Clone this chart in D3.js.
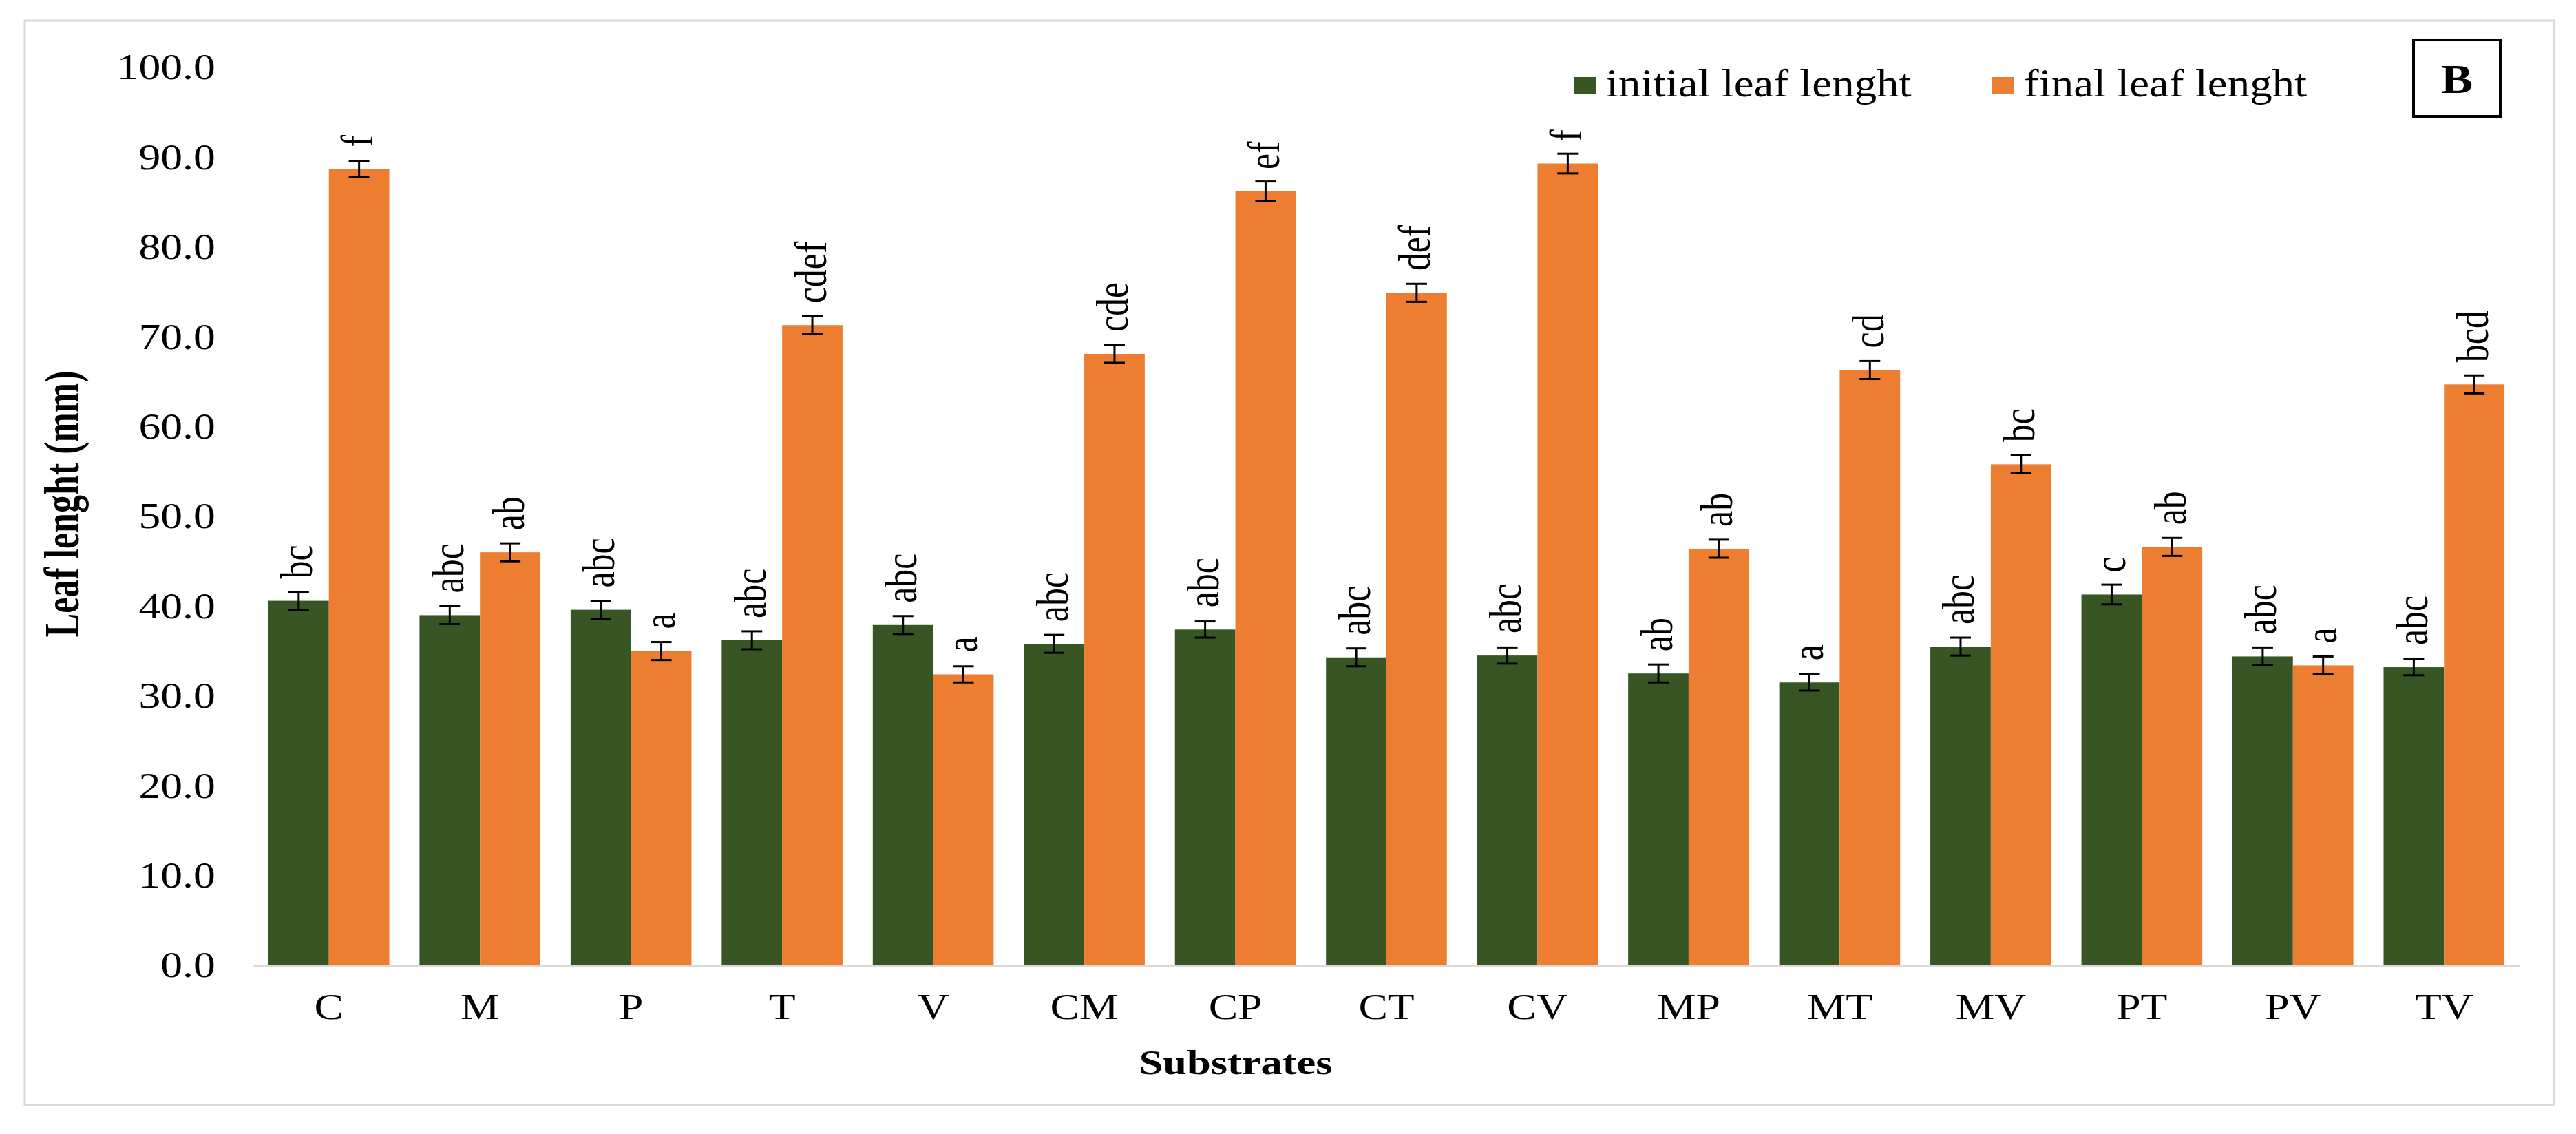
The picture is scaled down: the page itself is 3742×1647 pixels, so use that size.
<!DOCTYPE html>
<html>
<head>
<meta charset="utf-8">
<script src="https://cdn.jsdelivr.net/npm/d3@7"></script>
<style>
  body { margin: 0; background: #fff; }
  svg { display: block; }
</style>
</head>
<body>
<script>
// data
const substrates = ["C", "M", "P", "T", "V", "CM", "CP", "CT", "CV", "MP", "MT", "MV", "PT", "PV", "TV"]
const seriesNames = ["initial leaf lenght", "final leaf lenght"]
const initialLength = [40.6, 39.0, 39.6, 36.2, 37.9, 35.8, 37.4, 34.3, 34.5, 32.5, 31.5, 35.5, 41.3, 34.4, 33.2]
const finalLength = [88.7, 46.0, 35.0, 71.3, 32.4, 68.1, 86.2, 74.9, 89.3, 46.4, 66.3, 55.8, 46.6, 33.4, 64.7]
const initialErr = [1.0, 1.0, 1.0, 1.0, 1.0, 1.0, 0.9, 1.0, 0.9, 1.0, 0.9, 1.0, 1.1, 1.0, 0.9]
const finalErr = [0.9, 1.0, 1.0, 1.0, 0.9, 1.0, 1.1, 1.0, 1.1, 1.0, 1.0, 1.0, 1.0, 1.0, 1.0]
const initialLetters = ["bc", "abc", "abc", "abc", "abc", "abc", "abc", "abc", "abc", "ab", "a", "abc", "c", "abc", "abc"]
const finalLetters = ["f", "ab", "a", "cdef", "a", "cde", "ef", "def", "f", "ab", "cd", "bc", "ab", "a", "bcd"]
const yTicks = [0, 10, 20, 30, 40, 50, 60, 70, 80, 90, 100]

const width = 3742
const height = 1647
const serif = "'Liberation Serif', 'Times New Roman', serif"
const colors = ["#375623", "#ED7D31"]

// build rows for the grouped bars
const rows = []
substrates.forEach((s, i) => {
      rows.push({ sub: s, key: seriesNames[0], value: initialLength[i], err: initialErr[i], letter: initialLetters[i] })
      rows.push({ sub: s, key: seriesNames[1], value: finalLength[i], err: finalErr[i], letter: finalLetters[i] })
})

// scales
const x0 = d3.scaleBand()
      .domain(substrates)
      .range([368, 3660])
      .paddingInner(0.2)
      .paddingOuter(0.1)
const x1 = d3.scaleBand()
      .domain(seriesNames)
      .range([0, x0.bandwidth()])
const y = d3.scaleLinear()
      .domain([0, 100])
      .range([1402, 98])
const color = d3.scaleOrdinal(seriesNames, colors)

const svg = d3.select("body").append("svg")
      .attr("width", width)
      .attr("height", height)
      .attr("viewBox", [0, 0, width, height])
      .style("font-family", serif)

svg.append("rect")
      .attr("width", width)
      .attr("height", height)
      .attr("fill", "#fff")

// outer frame
svg.append("rect")
      .attr("x", 36)
      .attr("y", 30)
      .attr("width", 3674)
      .attr("height", 1575)
      .attr("fill", "none")
      .attr("stroke", "#d9d9d9")
      .attr("stroke-width", 3)

// y axis
svg.append("g")
      .attr("transform", `translate(${x0.range()[0]},0)`)
      .call(d3.axisLeft(y).tickValues(yTicks).tickFormat(d3.format(".1f")).tickSize(0).tickPadding(46))
      .call(g => g.select(".domain").remove())
      .call(g => g.selectAll(".tick text")
            .attr("font-family", serif)
            .attr("font-size", 53)
            .attr("fill", "#000")
            .attr("transform", "scale(1.2,1)"))

// x axis
svg.append("g")
      .attr("transform", `translate(0,${y(0)})`)
      .call(d3.axisBottom(x0).tickSize(0).tickSizeOuter(0).tickPadding(40))
      .call(g => g.select(".domain")
            .attr("stroke", "#d9d9d9")
            .attr("stroke-width", 3))
      .call(g => g.selectAll(".tick text")
            .attr("font-family", serif)
            .attr("font-size", 53)
            .attr("fill", "#000")
            .attr("transform", "scale(1.2,1)"))

// bars
const groups = svg.append("g")
      .selectAll("g")
      .data(rows)
      .join("g")
      .attr("transform", d => `translate(${x0(d.sub) + x1(d.key)},0)`)

groups.append("rect")
      .attr("x", 0)
      .attr("y", d => y(d.value))
      .attr("width", x1.bandwidth())
      .attr("height", d => y(0) - y(d.value))
      .attr("fill", d => color(d.key))

// error bars
const cap = 15
const eb = groups.append("g")
      .attr("stroke", "#000")
      .attr("stroke-width", 3)
eb.append("line")
      .attr("x1", x1.bandwidth() / 2)
      .attr("x2", x1.bandwidth() / 2)
      .attr("y1", d => y(d.value + d.err))
      .attr("y2", d => y(d.value - d.err))
eb.append("line")
      .attr("x1", x1.bandwidth() / 2 - cap)
      .attr("x2", x1.bandwidth() / 2 + cap)
      .attr("y1", d => y(d.value + d.err))
      .attr("y2", d => y(d.value + d.err))
eb.append("line")
      .attr("x1", x1.bandwidth() / 2 - cap)
      .attr("x2", x1.bandwidth() / 2 + cap)
      .attr("y1", d => y(d.value - d.err))
      .attr("y2", d => y(d.value - d.err))

// significance letters, rotated, placed above the bar end
groups.append("text")
      .attr("transform", d => `translate(${x1.bandwidth() / 2},${y(d.value) - 32}) scale(1.25,1) rotate(-90)`)
      .attr("dy", "0.3em")
      .attr("font-size", 52)
      .attr("fill", "#000")
      .text(d => d.letter)

// axis titles
svg.append("text")
      .attr("transform", "translate(114,732) scale(1.38,1) rotate(-90)")
      .attr("text-anchor", "middle")
      .attr("font-size", 52)
      .attr("font-weight", "bold")
      .text("Leaf lenght (mm)")

svg.append("text")
      .attr("transform", "translate(1795,1560) scale(1.25,1)")
      .attr("text-anchor", "middle")
      .attr("font-size", 50)
      .attr("font-weight", "bold")
      .text("Substrates")

// legend
const legendX = [2287, 2894]
const legend = svg.append("g")
      .selectAll("g")
      .data(seriesNames)
      .join("g")
      .attr("transform", (d, i) => `translate(${legendX[i]},112)`)
legend.append("rect")
      .attr("width", 32)
      .attr("height", 24)
      .attr("fill", d => color(d))
legend.append("text")
      .attr("transform", "translate(46,28) scale(1.12,1)")
      .attr("font-size", 58)
      .text(d => d)

// panel letter
svg.append("rect")
      .attr("x", 3506)
      .attr("y", 58)
      .attr("width", 126)
      .attr("height", 111)
      .attr("fill", "none")
      .attr("stroke", "#000")
      .attr("stroke-width", 4)
svg.append("text")
      .attr("transform", "translate(3569,135) scale(1.18,1)")
      .attr("text-anchor", "middle")
      .attr("font-size", 59)
      .attr("font-weight", "bold")
      .text("B")
</script>
</body>
</html>
